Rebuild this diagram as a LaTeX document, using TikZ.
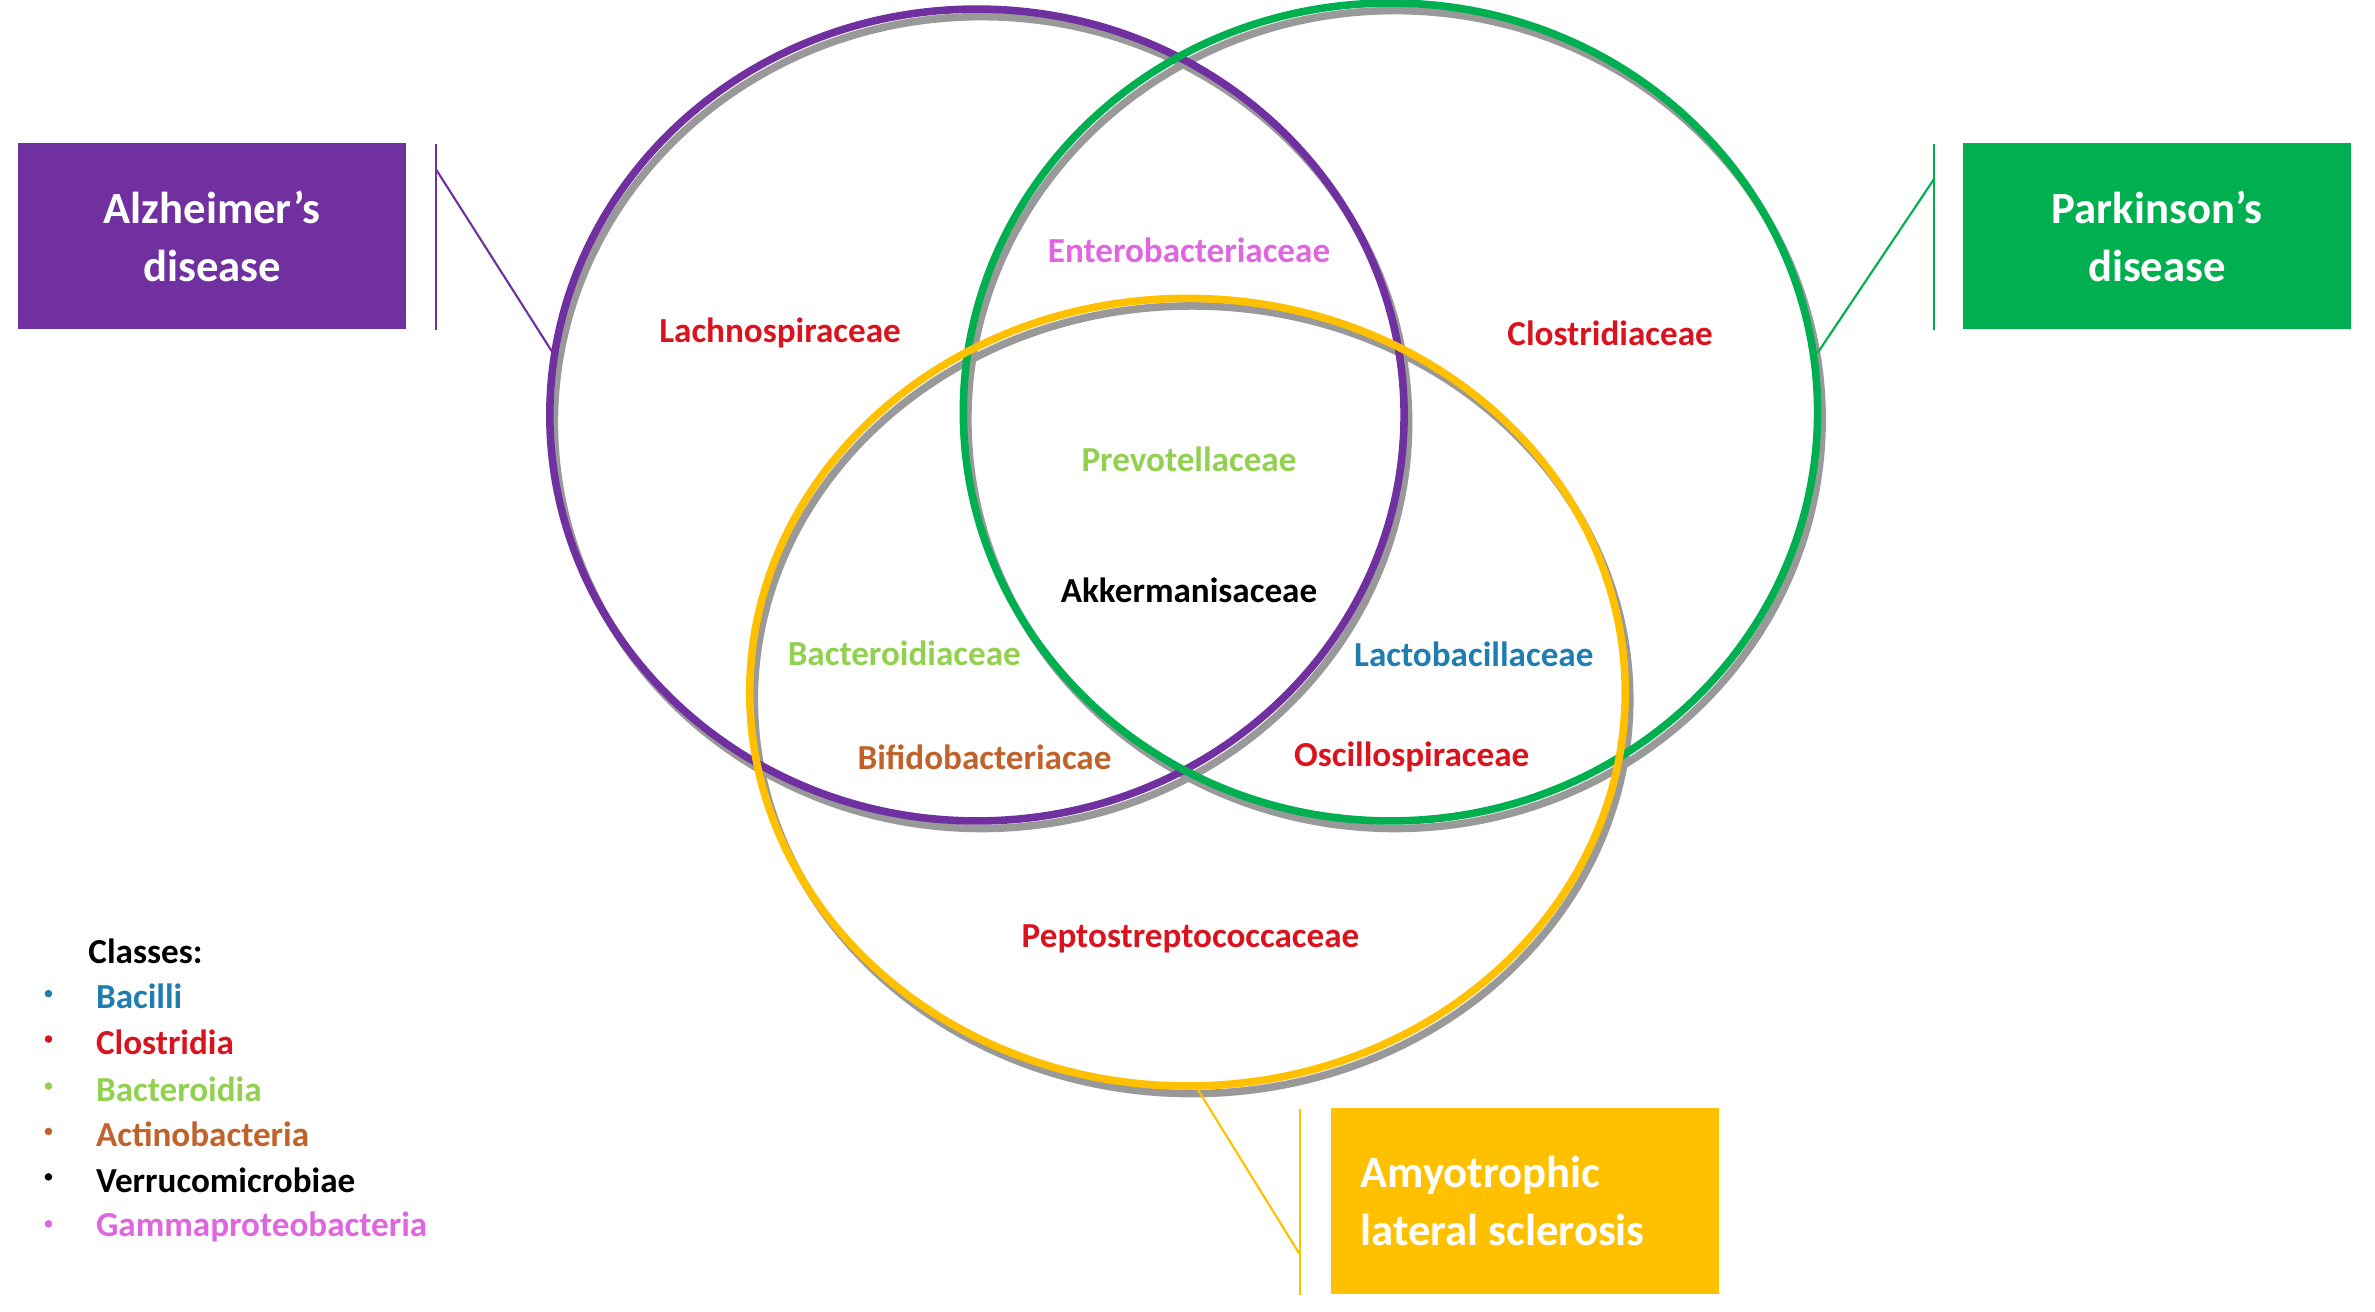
\documentclass[tikz,border=0pt]{standalone}
\usepackage{fontspec}
\setmainfont{Carlito}
\definecolor{pur}{HTML}{7030A0}
\definecolor{grn}{HTML}{00B050}
\definecolor{yel}{HTML}{FFC000}
\definecolor{red}{HTML}{D9141E}
\definecolor{lgr}{HTML}{92D050}
\definecolor{blu}{HTML}{1F7DB0}
\definecolor{brn}{HTML}{C0622A}
\definecolor{mag}{HTML}{E066E0}
\begin{document}
\begin{tikzpicture}[x=0.1mm,y=-0.1mm,
 lab/.style={font=\fontsize{6.6pt}{8pt}\selectfont\bfseries},
 box/.style={minimum width=25.6mm,minimum height=12.3mm,text=white,align=center,font=\fontsize{8.4pt}{11pt}\selectfont\bfseries,inner sep=0pt},
 ring/.style={line width=0.5mm},
 shadow/.style={line width=0.5mm,gray!80},
 leg/.style={font=\fontsize{6.6pt}{8pt}\selectfont\bfseries,anchor=west},
 dot/.style={circle,inner sep=0pt,minimum size=0.5mm}]
\useasboundingbox (0,0) rectangle (1568,866);
% shadows
\draw[shadow] (648,279) ellipse (282 and 268);
\draw[shadow] (921,277) ellipse (282 and 270);
\draw[shadow] (787,462) ellipse (289 and 260);
\draw[ring,pur] (645,274) ellipse (282 and 268);
\draw[ring,grn] (918,272) ellipse (282 and 270);
\draw[ring,yel] (784,457) ellipse (289 and 260);
% boxes
\node[box,fill=pur] (ad) at (140,156) {Alzheimer’s\\disease};
\node[box,fill=grn] (pd) at (1424,156) {Parkinson’s\\disease};
\node[box,fill=yel,align=left] (als) at (1007,793) {\hspace*{-3mm}Amyotrophic\\\hspace*{-3mm}lateral sclerosis};
\coordinate (a1) at (288,95); \coordinate (a2) at (288,218); \coordinate (a3) at (288,112); \coordinate (a4) at (365,233);
\draw[pur,thin] (a1) -- (a2); \draw[pur,thin] (a3) -- (a4);
\coordinate (p1) at (1277,95); \coordinate (p2) at (1277,218); \coordinate (p3) at (1277,118); \coordinate (p4) at (1200,233);
\draw[grn,thin] (p1) -- (p2); \draw[grn,thin] (p3) -- (p4);
\coordinate (s1) at (858,732); \coordinate (s2) at (858,855); \coordinate (s3) at (858,828); \coordinate (s4) at (790,718);
\draw[yel,thin] (s1) -- (s2); \draw[yel,thin] (s3) -- (s4);
% labels
\node[lab,text=mag] (l1) at (785,165) {Enterobacteriaceae};
\node[lab,text=red] (l2) at (515,220) {Lachnospiraceae};
\node[lab,text=red] (l3) at (1063,220) {Clostridiaceae};
\node[lab,text=lgr] (l4) at (785,303) {Prevotellaceae};
\node[lab,text=black] (l5) at (785,390) {Akkermanisaceae};
\node[lab,text=lgr] (l6) at (597,431) {Bacteroidiaceae};
\node[lab,text=blu] (l7) at (973,432) {Lactobacillaceae};
\node[lab,text=brn] (l8) at (650,500) {Bifidobacteriacae};
\node[lab,text=red] (l9) at (932,500) {Oscillospiraceae};
\node[lab,text=red] (l10) at (786,620) {Peptostreptococcaceae};
% legend
\node[leg] (c0) at (46,628) {Classes:};
\foreach \n/\c/\t/\y in {c1/blu/Bacilli/658,c2/red/Clostridia/688,c3/lgr/Bacteroidia/719,c4/brn/Actinobacteria/749,c5/black/Verrucomicrobiae/779,c6/mag/Gammaproteobacteria/810}{
  \node[dot,fill=\c] (\n d) at (32,\y-2) {};
  \node[leg,text=\c] (\n) at (51,\y) {\t};
}
\end{tikzpicture}
\end{document}
